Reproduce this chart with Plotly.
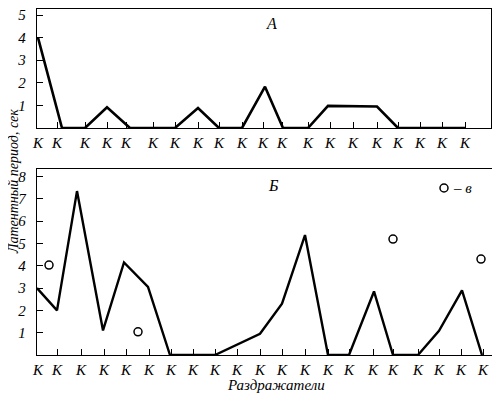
import plotly.graph_objects as go

# ---- data (x in stimulus-time units along the record) ----
tick_top = [1, 20, 48, 70, 89, 116, 138, 161, 182, 205, 226, 245, 271, 293, 316, 340, 361, 383, 405, 428]
tick_bot = [1, 20, 44, 67, 89, 112, 134, 156, 178, 200, 223, 245, 268, 291, 312, 336, 356, 381, 402, 424, 446]

a_x = [1, 25, 48, 70, 93, 138, 161, 182, 205, 228, 246, 271, 291, 340, 361, 428]
a_y = [4.0, 0, 0, 0.92, 0, 0, 0.88, 0, 0, 1.83, 0, 0, 0.98, 0.95, 0, 0]

b_x = [0, 20, 40, 66, 87, 111, 133, 178, 223, 245, 268, 291, 312, 337, 356, 381, 402, 425, 445]
b_y = [3.0, 2.0, 7.35, 1.1, 4.15, 3.05, 0, 0, 0.95, 2.3, 5.38, 0, 0, 2.85, 0, 0, 1.08, 2.9, 0]

v_x = [12, 101, 356, 444]
v_y = [4.03, 1.04, 5.2, 4.3]

ytick_top = [1, 2, 3, 4, 5]
ytick_bot = [1, 2, 3, 4, 5, 6, 7, 8]
x_label = "К"

FONT = "Liberation Serif"
OFF = 8                      # page body margin
W, H = 500 - OFF, 394 - OFF


def px(x):
    return (x - OFF) / W


def py(y):
    return 1 - (y - OFF) / H


fig = go.Figure()
fig.add_trace(go.Scatter(x=a_x, y=a_y, mode="lines", line=dict(color="black", width=2.6),
                         xaxis="x", yaxis="y", cliponaxis=False, showlegend=False))
fig.add_trace(go.Scatter(x=b_x, y=b_y, mode="lines", line=dict(color="black", width=2.4),
                         xaxis="x2", yaxis="y2", cliponaxis=False, showlegend=False))
fig.add_trace(go.Scatter(x=v_x, y=v_y, mode="markers",
                         marker=dict(symbol="circle-open", size=8, color="black", line=dict(width=1.5)),
                         xaxis="x2", yaxis="y2", cliponaxis=False, showlegend=False))

tickfont = dict(family=FONT, size=15, color="black", style="italic")
common_x = dict(showgrid=False, zeroline=False, showline=True, mirror=True, linecolor="black",
                linewidth=1.3, ticks="inside", ticklen=6, tickcolor="black", tickwidth=1,
                tickmode="array", tickfont=tickfont, fixedrange=True, automargin=False,
                ticklabelstandoff=1, ticklabeloverflow="allow")
common_y = dict(showgrid=False, zeroline=False, showline=True, mirror=True, linecolor="black",
                linewidth=1.3, ticks="inside", ticklen=6, tickcolor="black", tickwidth=1,
                tickmode="array", tickfont=tickfont, ticklabelstandoff=7, fixedrange=True,
                automargin=False, ticklabeloverflow="allow")

fig.update_layout(
    width=W, height=H,
    margin=dict(l=0, r=0, t=0, b=0, autoexpand=False),
    paper_bgcolor="white", plot_bgcolor="white",
    xaxis=dict(common_x, domain=[px(37), px(491)], range=[0, 454],
               tickvals=tick_top, ticktext=[x_label] * len(tick_top), anchor="y"),
    yaxis=dict(common_y, domain=[py(128), py(8.5)], range=[0, 5.29],
               tickvals=ytick_top, ticktext=[str(v) for v in ytick_top], anchor="x"),
    xaxis2=dict(common_x, domain=[px(37), px(497)], range=[0, 460],
                tickvals=tick_bot, ticktext=[x_label] * len(tick_bot), anchor="y2"),
    yaxis2=dict(common_y, domain=[py(355), py(169)], range=[0, 8.34],
                tickvals=ytick_bot, ticktext=[str(v) for v in ytick_bot], anchor="x2"),
)

ann_font = dict(family=FONT, size=16, color="black", style="italic")
fig.add_annotation(text="А", x=px(271), y=py(23), xref="paper", yref="paper",
                   xanchor="center", yanchor="middle", showarrow=False, font=ann_font)
fig.add_annotation(text="Б", x=px(273), y=py(185), xref="paper", yref="paper",
                   xanchor="center", yanchor="middle", showarrow=False, font=ann_font)
# legend key for open circles
fig.add_shape(type="circle", xref="paper", yref="paper",
              x0=px(440), x1=px(448), y0=py(192), y1=py(184),
              line=dict(color="black", width=1.5))
fig.add_annotation(text="– в", x=px(451), y=py(188), xref="paper", yref="paper",
                   xanchor="left", yanchor="middle", showarrow=False,
                   font=dict(family=FONT, size=15, color="black", style="italic"))
fig.add_annotation(text="Латентный период, сек", x=px(13), y=py(182), xref="paper", yref="paper",
                   xanchor="center", yanchor="middle", showarrow=False, textangle=-90,
                   borderpad=0,
                   font=dict(family=FONT, size=14, color="black", style="italic"))
fig.add_annotation(text="Раздражатели", x=px(276), y=py(385), xref="paper", yref="paper",
                   xanchor="center", yanchor="middle", showarrow=False, borderpad=0,
                   font=dict(family=FONT, size=15, color="black", style="italic"))

fig.write_html("out.html")
